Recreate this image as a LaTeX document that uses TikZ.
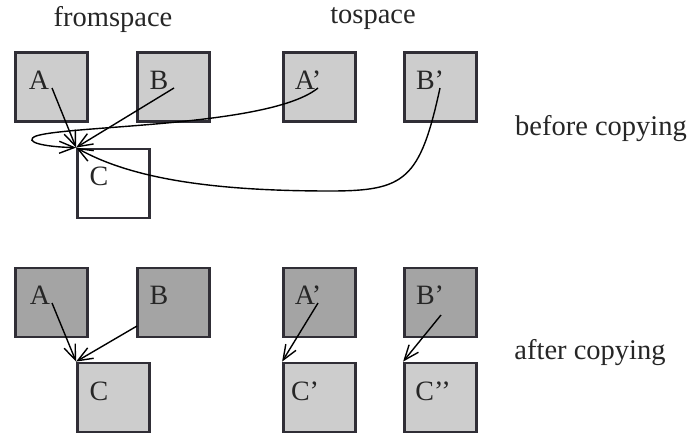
\documentclass[tikz,border=0pt]{standalone}
\usepackage{fontspec}
\setmainfont{Liberation Serif}
\usetikzlibrary{arrows.meta}
\definecolor{edge}{HTML}{302E36}
\definecolor{lightfill}{HTML}{CDCDCD}
\definecolor{darkfill}{HTML}{A4A4A4}
\tikzset{
  cell/.style={draw=edge, line width=2.8pt, minimum width=72pt, minimum height=69pt, inner sep=0pt},
  lbl/.style={inner sep=0pt, font=\fontsize{28}{28}\selectfont, text=black!85},
  caption/.style={inner sep=0pt, font=\fontsize{28.5}{30}\selectfont, text=black!85},
  ptr/.style={line width=1.4pt, black, -{Straight Barb[length=15pt, width=12pt, line width=1.4pt]}}
}
\begin{document}
\begin{tikzpicture}[x=1pt,y=-1pt]
\useasboundingbox (0,0) rectangle (690,434);
% captions
\node[caption] (cfrom) at (113,19) {fromspace};
\node[caption] (cto) at (373,19) {tospace};
\node[caption] (cbefore) at (601,129) {before copying};
\node[caption] (cafter) at (590,353) {after copying};
% top row
\node[cell, fill=lightfill] (tA) at (51.5,87) {};
\node[cell, fill=lightfill] (tB) at (173.5,87) {};
\node[cell, fill=lightfill] (tAp) at (319.5,87) {};
\node[cell, fill=lightfill] (tBp) at (440.5,87) {};
\node[cell, fill=white] (tC) at (113.5,183.5) {};
\node[lbl] (ltA) at (39,80) {A};
\node[lbl] (ltB) at (159,80) {B};
\node[lbl] (ltAp) at (308,80) {A’};
\node[lbl] (ltBp) at (430,80) {B’};
\node[lbl] (ltC) at (99,176) {C};
% bottom row
\node[cell, fill=darkfill] (bA) at (51.5,302.5) {};
\node[cell, fill=darkfill] (bB) at (173.5,302.5) {};
\node[cell, fill=darkfill] (bAp) at (319.5,302.5) {};
\node[cell, fill=darkfill] (bBp) at (440.5,302.5) {};
\node[cell, fill=lightfill] (bC) at (113.5,397.5) {};
\node[cell, fill=lightfill] (bCp) at (319.5,397.5) {};
\node[cell, fill=lightfill] (bCpp) at (440.5,397.5) {};
\node[lbl] (lbA) at (40,295) {A};
\node[lbl] (lbB) at (159,295) {B};
\node[lbl] (lbAp) at (308,295) {A’};
\node[lbl] (lbBp) at (430,295) {B’};
\node[lbl] (lbC) at (99,391) {C};
\node[lbl] (lbCp) at (305,391) {C’};
\node[lbl] (lbCpp) at (433,391) {C’’};
% pointer origins
\coordinate (pA) at (52,88);
\coordinate (pB) at (174,88);
\coordinate (pAp) at (318,88);
\coordinate (pBp) at (440,88);
\coordinate (qA) at (52,303);
\coordinate (qB) at (137,326);
\coordinate (qAp) at (318,303);
\coordinate (qBp) at (441,315);
% top pointers
\draw[ptr] (pA) -- (tC.north west);
\draw[ptr] (pB) -- (tC.north west);
\draw[ptr] (pAp) .. controls (270,127) and (70,125) .. (36,136)
  .. controls (22,142) and (45,147) .. (tC.north west);
\draw[ptr] (pBp) .. controls (420,180) and (405,191) .. (330,191)
  .. controls (210,191) and (130,178) .. (tC.north west);
% bottom pointers
\draw[ptr] (qA) -- (bC.north west);
\draw[ptr] (qB) -- (bC.north west);
\draw[ptr] (qAp) -- (bCp.north west);
\draw[ptr] (qBp) -- (bCpp.north west);
\end{tikzpicture}
\end{document}
